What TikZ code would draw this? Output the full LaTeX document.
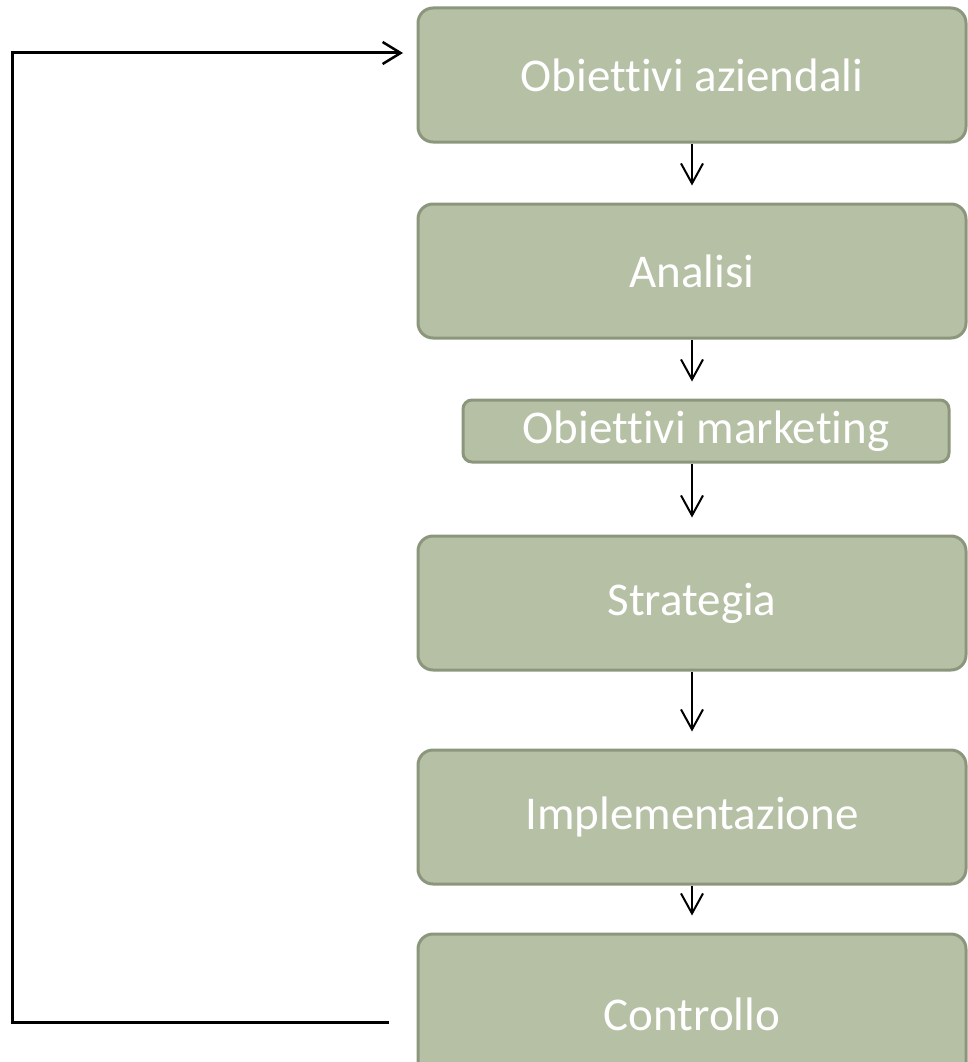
\documentclass[tikz,border=0pt]{standalone}
\usepackage{tikz}
\usepackage{fontspec}
\setmainfont{Carlito}[Ligatures=NoCommon]
\usetikzlibrary{arrows.meta, positioning, calc}
\definecolor{boxfill}{RGB}{181,192,165}
\definecolor{boxline}{RGB}{140,150,125}

\begin{document}
\begin{tikzpicture}[x=1pt, y=-1pt,
    phase/.style={draw=boxline, fill=boxfill, line width=3pt, rounded corners=15pt,
                  minimum width=548pt, minimum height=134pt,
                  text=white, font=\fontsize{47}{52}\selectfont},
    flow/.style={draw=black, line width=2pt,
                 -{Straight Barb[length=20pt, width=22pt, line width=2pt]}},
    loopback/.style={draw=black, line width=3pt,
                 -{Straight Barb[length=18pt, width=22pt, line width=2.5pt]}}
  ]
    \useasboundingbox (0,0) rectangle (967,1062);

    \node[phase] (obaz) at (692,75) {Obiettivi aziendali};
    \node[phase] (anal) at (692,271) {Analisi};
    \node[phase, minimum width=486pt, minimum height=62pt, rounded corners=9pt]
      (obmk) at (706,431) {Obiettivi marketing};
    \node[phase] (strat) at (692,603) {Strategia};
    \node[phase] (impl) at (692,817) {Implementazione};
    \node[phase, minimum height=160pt] (ctrl) at (692,1014) {Controllo};

    \foreach \a/\b in {obaz/anal,anal/obmk,obmk/strat,strat/impl,impl/ctrl} {
      \draw[flow, shorten >=17pt] (\a.south -| obaz.south) -- (\b.north -| obaz.south);
    }

    % ritorno dal controllo agli obiettivi
    \coordinate (fbout) at (389,1022);
    \coordinate (fbin) at (403,53);
    \draw[loopback] (fbout) -- (12,1022) |- (fbin);
  \end{tikzpicture}
\end{document}
